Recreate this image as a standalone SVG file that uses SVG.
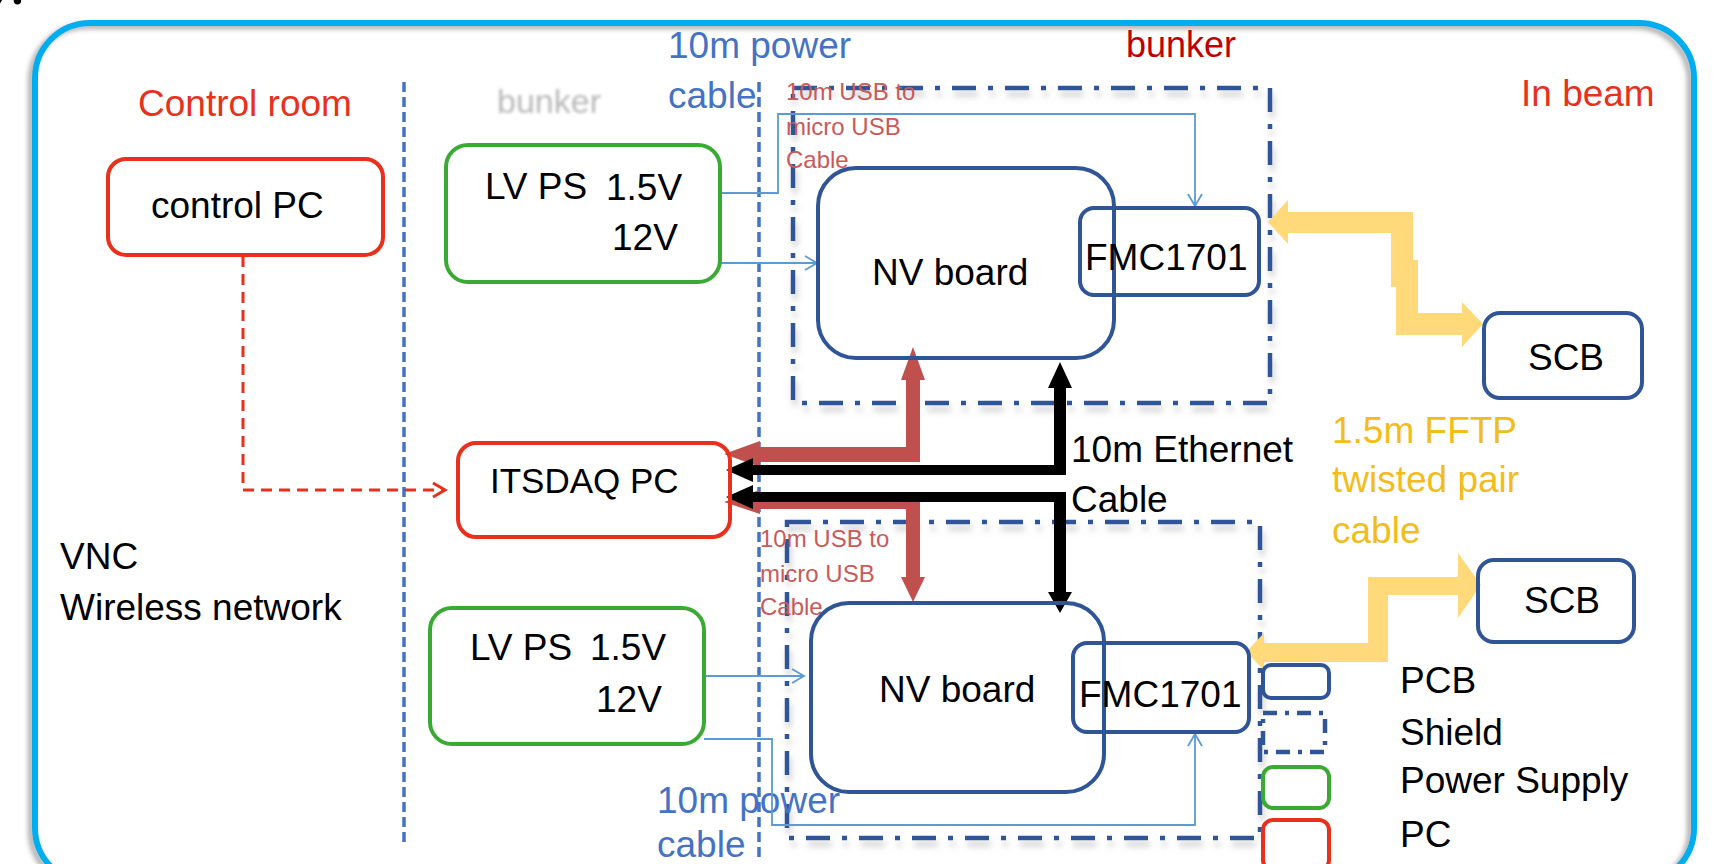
<svg xmlns="http://www.w3.org/2000/svg" width="1718" height="864" viewBox="0 0 1718 864">
<defs>
<style>
.t{font-family:"Liberation Sans",Arial,sans-serif;font-size:37px;fill:#000}
.red{fill:#E8301C}
.blue{fill:#4472C4}
.usb{font-size:24px;fill:#C85A5A}
.gold{fill:#F2BC1B}
.pcb{fill:none;stroke:#2F5597;stroke-width:4}
.pc{fill:none;stroke:#E8301C;stroke-width:4}
.ps{fill:none;stroke:#3AAA35;stroke-width:4}
.shield{fill:none;stroke:#2F5597;stroke-width:4.5;stroke-dasharray:24 12 5 12}
.div{stroke:#4472C4;stroke-width:3.5;stroke-dasharray:10 5;fill:none}
.thin{fill:none;stroke:#5B9BD5;stroke-width:1.8}
</style>
<marker id="ob" markerUnits="userSpaceOnUse" markerWidth="20" markerHeight="20" refX="14" refY="8" orient="auto">
<path d="M2,1 L14,8 L2,15" fill="none" stroke="#5B9BD5" stroke-width="1.8"/>
</marker>
<marker id="or" markerUnits="userSpaceOnUse" markerWidth="20" markerHeight="20" refX="14" refY="8" orient="auto">
<path d="M2,1 L14,8 L2,15" fill="none" stroke="#E8301C" stroke-width="3"/>
</marker>
<filter id="sh" x="-5%" y="-5%" width="110%" height="110%">
<feDropShadow dx="-4" dy="3" stdDeviation="2.5" flood-color="#777" flood-opacity="0.6"/>
</filter>
<filter id="sh2" x="-5%" y="-5%" width="110%" height="115%">
<feDropShadow dx="2" dy="6" stdDeviation="3" flood-color="#999" flood-opacity="0.5"/>
</filter>
<filter id="blur"><feGaussianBlur stdDeviation="1.8"/></filter>
</defs>
<rect width="1718" height="864" fill="#fff"/>
<text x="-14" y="4" style="font-family:'Liberation Serif',serif;font-style:italic;font-size:64px">y.</text>
<rect id="frame" x="35" y="23" width="1659" height="860" rx="55" fill="none" stroke="#00AEEF" stroke-width="6" filter="url(#sh)"/>

<g id="dividers">
<line class="div" x1="404" y1="82" x2="404" y2="845"/>
<line class="div" x1="759" y1="82" x2="759" y2="862"/>
</g>

<g id="shields" filter="url(#sh2)">
<rect id="shield-top" class="shield" x="793" y="88" width="477" height="315"/>
<rect id="shield-bottom" class="shield" x="787" y="522" width="473" height="316"/>
</g>

<g id="labels">
<text class="t red" x="138" y="116">Control room</text>
<text class="t" x="497" y="113" style="fill:#b8b8b8;font-size:34px" filter="url(#blur)">bunker</text>
<text class="t blue" x="668" y="58">10m power</text>
<text class="t blue" x="668" y="108">cable</text>
<text class="t" x="1126" y="57" style="fill:#C00000;font-size:36px">bunker</text>
<text class="t red" x="1521" y="106">In beam</text>
<text class="t usb" x="786" y="100">10m USB to</text>
<text class="t usb" x="786" y="135">micro USB</text>
<text class="t usb" x="786" y="168">Cable</text>
<text class="t usb" x="760" y="547">10m USB to</text>
<text class="t usb" x="760" y="582">micro USB</text>
<text class="t usb" x="760" y="615">Cable</text>
<text class="t" x="60" y="569">VNC</text>
<text class="t" x="60" y="620">Wireless network</text>
<text class="t" x="1071" y="462">10m Ethernet</text>
<text class="t" x="1071" y="512">Cable</text>
<text class="t gold" x="1332" y="443">1.5m FFTP</text>
<text class="t gold" x="1332" y="492">twisted pair</text>
<text class="t gold" x="1332" y="543">cable</text>
<text class="t blue" x="657" y="813">10m power</text>
<text class="t blue" x="657" y="857">cable</text>
</g>

<g id="connectors">
<path class="thin" d="M720,193 H778 V114 H1195 V206" marker-end="url(#ob)"/>
<path class="thin" d="M720,263 H817" marker-end="url(#ob)"/>
<path class="thin" d="M704,676 H804" marker-end="url(#ob)"/>
<path class="thin" d="M704,739 H772 V825 H1195 V734" marker-end="url(#ob)"/>
<path d="M243,256 V490 H445" fill="none" stroke="#E8301C" stroke-width="3" stroke-dasharray="11 7" marker-end="url(#or)"/>
<polygon fill="#C0504D" points="913,347 925,380 920,380 920,462 760,462 760,467 724,454 760,441 760,447 906,447 906,380 901,380"/>
<polygon fill="#C0504D" points="724,502 760,490 760,495 920,495 920,577 925,577 913,602 901,577 906,577 906,509 760,509 760,514"/>
<polygon fill="#000" points="1060,362 1072,388 1066,388 1066,475 753,475 753,482 726,470 753,458 753,465 1054,465 1054,388 1048,388"/>
<polygon fill="#000" points="726,497 753,485 753,492 1066,492 1066,592 1072,592 1060,613 1048,592 1054,592 1054,502 753,502 753,509"/>
<polygon fill="#FFD97A" points="1268,222 1288,200 1288,212 1413,212 1413,260 1418,260 1418,313 1462,313 1462,302 1483,324 1462,347 1462,335 1396,335 1396,287 1391,287 1391,233 1288,233 1288,244"/>
<polygon fill="#FFD97A" points="1246,652 1264,633 1264,643 1368,643 1368,577 1458,577 1458,553 1481,585 1458,618 1458,595 1388,595 1388,662 1264,662 1264,670"/>
</g>

<g id="control-pc"><rect class="pc" x="108" y="159" width="275" height="96" rx="18"/><text class="t" x="151" y="218">control PC</text></g>
<g id="itsdaq-pc"><rect class="pc" x="458" y="443" width="272" height="94" rx="18"/><text class="t" x="490" y="493" style="font-size:35px">ITSDAQ PC</text></g>
<g id="lvps-top"><rect class="ps" x="446" y="145" width="274" height="137" rx="22"/><text class="t" x="485" y="199">LV PS</text><text class="t" x="606" y="200">1.5V</text><text class="t" x="612" y="250">12V</text></g>
<g id="lvps-bottom"><rect class="ps" x="430" y="608" width="274" height="136" rx="22"/><text class="t" x="470" y="660">LV PS</text><text class="t" x="590" y="660">1.5V</text><text class="t" x="596" y="712">12V</text></g>
<g id="nv-top"><rect class="pcb" x="818" y="168" width="296" height="190" rx="38"/><text class="t" x="872" y="285">NV board</text></g>
<g id="fmc-top"><rect class="pcb" x="1080" y="208" width="179" height="87" rx="14"/><text class="t" x="1085" y="270">FMC1701</text></g>
<g id="nv-bottom"><rect class="pcb" x="811" y="603" width="293" height="189" rx="38"/><text class="t" x="879" y="702">NV board</text></g>
<g id="fmc-bottom"><rect class="pcb" x="1073" y="643" width="176" height="89" rx="14"/><text class="t" x="1079" y="707">FMC1701</text></g>
<g id="scb-top"><rect class="pcb" x="1484" y="313" width="158" height="85" rx="16"/><text class="t" x="1566" y="370" text-anchor="middle">SCB</text></g>
<g id="scb-bottom"><rect class="pcb" x="1478" y="560" width="156" height="82" rx="16"/><text class="t" x="1562" y="613" text-anchor="middle">SCB</text></g>

<g id="legend">
<rect class="pcb" x="1263" y="665" width="66" height="33" rx="8"/>
<rect class="shield" x="1263" y="713" width="62" height="39" style="stroke-dasharray:14 8 4 8"/>
<rect class="ps" x="1263" y="767" width="66" height="41" rx="10"/>
<rect class="pc" x="1263" y="820" width="66" height="50" rx="10"/>
<text class="t" x="1400" y="693">PCB</text>
<text class="t" x="1400" y="745">Shield</text>
<text class="t" x="1400" y="793">Power Supply</text>
<text class="t" x="1400" y="847">PC</text>
</g>
</svg>
